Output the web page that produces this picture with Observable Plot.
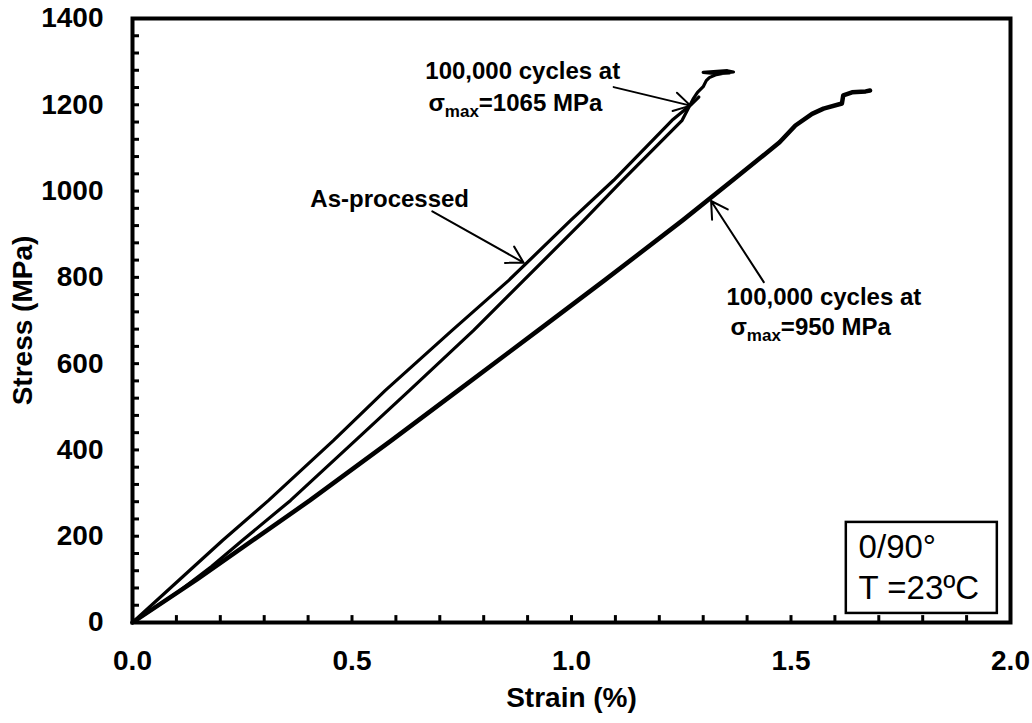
<!DOCTYPE html>
<html><head><meta charset="utf-8">
<script src="https://cdn.jsdelivr.net/npm/d3@7"></script>
<script src="https://cdn.jsdelivr.net/npm/@observablehq/plot@0.6"></script>
<style>html,body{margin:0;padding:0;background:#fff}#chart{width:1032px;height:723px}</style>
</head><body><div id="chart"></div>
<script>
// Series data (strain %, stress MPa)
const asProcStrain = [0, 0.205, 0.310, 0.458, 0.576, 0.728, 0.857, 0.998, 1.096, 1.229, 1.272, 1.290];
const asProcStress = [0, 190, 283, 422, 538, 677, 793, 932, 1025, 1164, 1200, 1218];

const c1065Strain = [0, 0.100, 0.180, 0.250, 0.360, 0.508, 0.631, 0.777, 0.891, 1.028, 1.116, 1.252, 1.278, 1.287, 1.300, 1.307, 1.314, 1.330, 1.350, 1.369, 1.355, 1.300, 1.330, 1.360];
const c1065Stress = [0, 68, 130, 190, 283, 422, 538, 677, 793, 932, 1025, 1164, 1215, 1229, 1242, 1256, 1263, 1270, 1274, 1276, 1279, 1275, 1272, 1274];

const c950Strain = [0, 0.147, 0.404, 0.590, 0.742, 0.924, 1.075, 1.253, 1.367, 1.474, 1.510, 1.548, 1.574, 1.616, 1.619, 1.639, 1.670, 1.680];
const c950Stress = [0, 100, 283, 422, 538, 677, 793, 932, 1025, 1113, 1152, 1179, 1191, 1203, 1222, 1229, 1231, 1233];

// Axis ticks
const xTickValues = [0, 0.5, 1.0, 1.5, 2.0];
const yTickValues = [0, 200, 400, 600, 800, 1000, 1200, 1400];
const xMinorTicks = d3.range(0, 21).map(i => i / 10);
const yMinorTicks = d3.range(0, 36).map(i => i * 40);

// Annotations
const annoText = [
  {x: 0.405, y: 980, text: "As-processed"},
  {x: 0.667, y: 1277, text: "100,000 cycles at"},
  {x: 0.674, y: 1203, text: "σmax=1065 MPa"},
  {x: 1.353, y: 753, text: "100,000 cycles at"},
  {x: 1.362, y: 684, text: "σmax=950 MPa"}
];
const annoArrows = [
  {x1: 0.683, y1: 953, x2: 0.891, y2: 834},
  {x1: 1.096, y1: 1241, x2: 1.271, y2: 1198},
  {x1: 1.438, y1: 789, x2: 1.318, y2: 977}
];
const boxRect = [{x1: 1.626, x2: 1.970, y1: 21, y2: 232}];
const boxText = [
  {x: 1.654, y: 174, text: "0/90°"},
  {x: 1.654, y: 79, text: "T =23ºC"}
];

const toPts = (xs, ys) => xs.map((x, i) => ({x, y: ys[i]}));

const chart = Plot.plot({
  width: 1032,
  height: 723,
  marginLeft: 132,
  marginRight: 22,
  marginTop: 18,
  marginBottom: 101,
  x: {domain: [0, 2]},
  y: {domain: [0, 1400]},
  style: {fontFamily: "'Liberation Sans', Arial, sans-serif", fontSize: "28px", fontWeight: "bold", background: "#fff", color: "#000"},
  marks: [
    Plot.axisX({ticks: xTickValues, tickFormat: d => d.toFixed(1), tickSize: 0, tickPadding: 28, label: "Strain (%)", labelAnchor: "center", labelOffset: 84, labelArrow: "none"}),
    Plot.axisY({ticks: yTickValues, tickFormat: d => String(d), tickSize: 0, tickPadding: 29, label: "Stress (MPa)", labelAnchor: "center", labelOffset: 120, labelArrow: "none"}),
    Plot.ruleX(xMinorTicks, {x: d => d, y1: 0, y2: 16, stroke: "#000", strokeWidth: 3}),
    Plot.ruleY(yMinorTicks, {y: d => d, x1: 0, x2: 0.016, stroke: "#000", strokeWidth: 3}),
    Plot.line(toPts(c950Strain, c950Stress), {x: "x", y: "y", stroke: "#000", strokeWidth: 4.5, curve: "linear"}),
    Plot.line(toPts(c1065Strain, c1065Stress), {x: "x", y: "y", stroke: "#000", strokeWidth: 3.2, curve: "linear"}),
    Plot.line(toPts(asProcStrain, asProcStress), {x: "x", y: "y", stroke: "#000", strokeWidth: 3.2, curve: "linear"}),
    Plot.arrow(annoArrows, {x1: "x1", y1: "y1", x2: "x2", y2: "y2", stroke: "#000", strokeWidth: 2, headLength: 14, bend: 0}),
    Plot.text(annoText, {x: "x", y: "y", text: "text", textAnchor: "start", fontSize: 24, fontWeight: "bold", fill: "#000"}),
    Plot.rect(boxRect, {x1: "x1", x2: "x2", y1: "y1", y2: "y2", fill: "#fff", stroke: "#000", strokeWidth: 2.5}),
    Plot.text(boxText, {x: "x", y: "y", text: "text", textAnchor: "start", fontSize: 33, fontWeight: "normal", fill: "#000"}),
    Plot.frame({stroke: "#000", strokeWidth: 4})
  ]
});

// subscript "max" in σmax labels
chart.querySelectorAll("text").forEach(t => {
  const s = t.textContent;
  if (s.startsWith("σmax")) {
    const rest = s.slice(4);
    while (t.firstChild) t.removeChild(t.firstChild);
    const ns = "http://www.w3.org/2000/svg";
    const a = document.createElementNS(ns, "tspan"); a.textContent = "σ";
    const b = document.createElementNS(ns, "tspan"); b.textContent = "max"; b.setAttribute("font-size", "17"); b.setAttribute("dy", "6");
    const c = document.createElementNS(ns, "tspan"); c.textContent = rest; c.setAttribute("dy", "-6");
    t.appendChild(a); t.appendChild(b); t.appendChild(c);
  }
});

document.getElementById("chart").appendChild(chart);
</script>
</body></html>
